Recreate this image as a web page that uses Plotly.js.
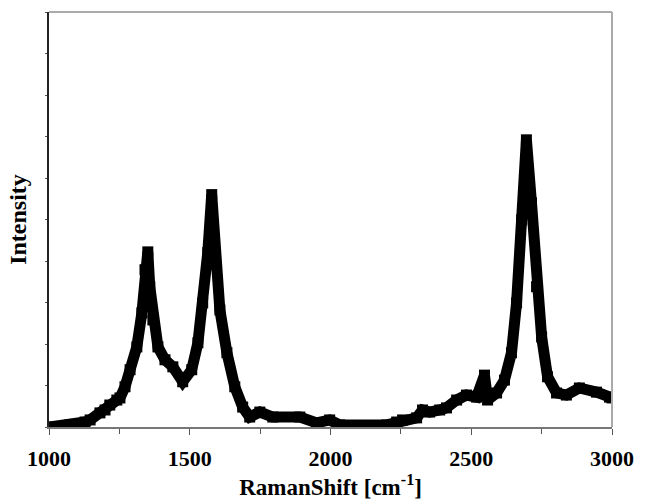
<!DOCTYPE html>
<html>
<head>
<meta charset="utf-8">
<script src="https://cdn.plot.ly/plotly-3.0.1.min.js"></script>
<style>html,body{margin:0;padding:0;background:#fff;}#chart{width:648px;height:501px;}</style>
</head>
<body>
<div id="chart"></div>
<script>
const ramanShift = [1000, 1074, 1128, 1146, 1181, 1199, 1216, 1241, 1252, 1270, 1288, 1312, 1330, 1341, 1351, 1358, 1369, 1387, 1412, 1440, 1475, 1507, 1529, 1546, 1564, 1578, 1589, 1607, 1632, 1660, 1688, 1713, 1749, 1795, 1891, 1951, 1997, 2033, 2200, 2235, 2256, 2306, 2327, 2352, 2388, 2412, 2448, 2483, 2519, 2547, 2558, 2590, 2618, 2643, 2661, 2679, 2696, 2714, 2732, 2750, 2771, 2803, 2838, 2884, 2945, 2991, 3000];
const intensity = [0, 0.5, 1.2, 1.7, 3.4, 4.1, 5.3, 6.5, 7.0, 9.7, 13.8, 19.3, 27.5, 37.9, 42.2, 33.8, 25.8, 19.3, 16.2, 14.5, 10.9, 13.8, 20.3, 29.9, 42.0, 56.0, 40.3, 28.2, 17.9, 9.7, 4.8, 2.4, 3.6, 2.4, 2.4, 1.0, 1.7, 0.5, 0.5, 1.2, 1.7, 2.2, 4.1, 3.6, 4.1, 4.6, 6.5, 7.7, 7.2, 12.5, 6.5, 8.2, 11.3, 17.9, 29.9, 49.9, 69.2, 54.0, 33.8, 21.7, 12.1, 8.2, 7.7, 9.4, 8.4, 7.2, 7.0];
const xTicks = [1000, 1500, 2000, 2500, 3000];

const trace = {
  x: ramanShift,
  y: intensity,
  mode: 'lines+markers',
  line: {color: '#000', width: 11},
  marker: {symbol: 'square', size: 11, color: '#000'},
  hoverinfo: 'none'
};

const tickFont = {family: 'Liberation Serif, Times New Roman, serif', size: 22, color: '#000', weight: 'bold'};
const titleFont = {family: 'Liberation Serif, Times New Roman, serif', size: 23, color: '#000', weight: 'bold'};

const layout = {
  width: 648, height: 501,
  margin: {l: 49, r: 36, t: 12, b: 74, pad: 0},
  paper_bgcolor: '#fff', plot_bgcolor: '#fff',
  showlegend: false,
  xaxis: {
    range: [1000, 3000],
    tickvals: xTicks,
    ticktext: xTicks.map(String),
    ticks: 'outside', ticklen: 6, tickcolor: '#555', tickwidth: 1,
    ticklabelstandoff: 5,
    minor: {dtick: 250, ticks: 'outside', ticklen: 5, tickcolor: '#555'},
    showline: true, linecolor: '#777', linewidth: 2,
    showgrid: false, zeroline: false,
    tickfont: tickFont,
    title: {text: 'RamanShift [cm<sup>-1</sup>]', font: titleFont, standoff: 6}
  },
  yaxis: {
    range: [0, 100],
    dtick: 10,
    ticks: 'outside', ticklen: 2, tickcolor: '#555',
    showticklabels: false,
    showline: true, linecolor: '#222', linewidth: 2,
    showgrid: false, zeroline: false,
    title: {text: 'Intensity', font: {family: 'Liberation Serif, Times New Roman, serif', size: 24, color: '#000', weight: 'bold'}, standoff: 12}
  },
  shapes: [
    {type: 'line', xref: 'paper', yref: 'paper', x0: 0, x1: 1, y0: 1, y1: 1, line: {color: '#aaa', width: 2}},
    {type: 'line', xref: 'paper', yref: 'paper', x0: 1, x1: 1, y0: 0, y1: 1, line: {color: '#aaa', width: 2}}
  ]
};

Plotly.newPlot('chart', [trace], layout, {staticPlot: true, displayModeBar: false});
</script>
</body>
</html>
